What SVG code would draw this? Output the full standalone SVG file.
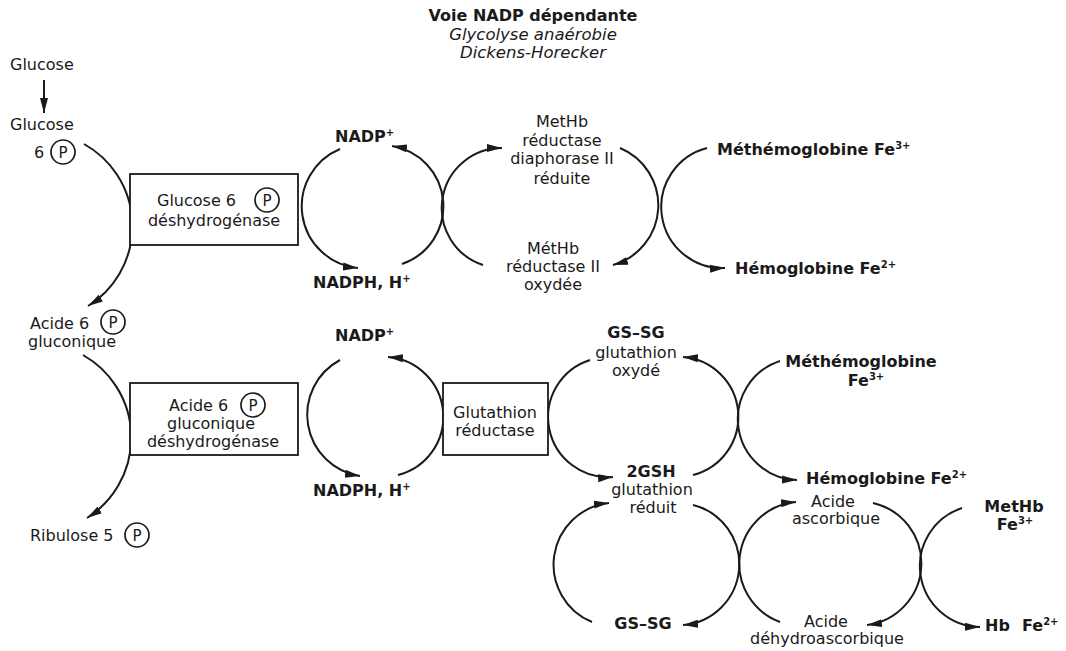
<svg xmlns="http://www.w3.org/2000/svg" width="1066" height="651" viewBox="0 0 1066 651">
<style>
text{font-family:"DejaVu Sans","Liberation Sans",sans-serif;fill:#1a1a1a}
.r{font-size:16px}
.b{font-size:16px;font-weight:bold}
.i{font-size:16.5px;font-style:italic}
.c{text-anchor:middle}
.sup{font-size:10px}
.p{font-size:15px;text-anchor:middle}
.pc{fill:none;stroke:#1a1a1a;stroke-width:1.7}
.box{fill:#fff;stroke:#1a1a1a;stroke-width:1.8}
.ln{fill:none;stroke:#1a1a1a;stroke-width:2}
.ar{marker-end:url(#ah)}
</style>
<defs>
<marker id="ah" markerWidth="16" markerHeight="10" refX="15" refY="5" orient="auto" markerUnits="userSpaceOnUse"><path d="M0,1 L15,5 L0,9 z" fill="#1a1a1a"/></marker>
</defs>
<rect width="1066" height="651" fill="#fff"/>
<g id="title">
<text class="b c" x="533" y="21">Voie NADP dépendante</text>
<text class="i c" x="533" y="40">Glycolyse anaérobie</text>
<text class="i c" x="533" y="58">Dickens-Horecker</text>
</g>
<g id="connectors">
<path class="ln ar" d="M44,80 L44,113"/>
<path class="ln ar" d="M84,144 A94,94 0 0 1 88,306"/>
<path class="ln ar" d="M83,355 A95,95 0 0 1 87,518"/>
<path class="ln ar" d="M340,149 A62,62 0 0 0 358,268"/>
<path class="ln ar" d="M402,264 A61,61 0 0 0 392,146"/>
<path class="ln ar" d="M483,265 A60,60 0 0 1 502,148"/>
<path class="ln ar" d="M620,148 A62,62 0 0 1 613,265"/>
<path class="ln ar" d="M707,148 A61,61 0 0 0 725,268"/>
<path class="ln ar" d="M340,360 A62,62 0 0 0 360,476"/>
<path class="ln ar" d="M398,475 A60,60 0 0 0 388,357"/>
<path class="ln ar" d="M590,360 A60,60 0 0 0 613,477"/>
<path class="ln ar" d="M693,475 A60,60 0 0 0 683,357"/>
<path class="ln ar" d="M780,361 A61,61 0 0 0 797,480"/>
<path class="ln ar" d="M592,622 A62,62 0 0 1 609,503"/>
<path class="ln ar" d="M693,505 A61,61 0 0 1 683,625"/>
<path class="ln ar" d="M780,622 A62,62 0 0 1 796,502"/>
<path class="ln ar" d="M873,503 A62,62 0 0 1 867,625"/>
<path class="ln ar" d="M962,508 A61,61 0 0 0 980,627"/>
</g>
<g id="glucose"><text class="r" x="10" y="70">Glucose</text></g>
<g id="glucose6p">
<text class="r" x="10" y="130">Glucose</text>
<text class="r" x="34" y="158">6</text>
<circle class="pc" cx="63" cy="152" r="12"/><text class="p" x="63" y="158">P</text>
</g>
<g id="g6pdh">
<rect class="box" x="130" y="174" width="168" height="71"/>
<text class="r" x="157" y="206">Glucose 6</text>
<circle class="pc" cx="267" cy="200" r="12"/><text class="p" x="267" y="206">P</text>
<text class="r c" x="214" y="226">déshydrogénase</text>
</g>
<g id="nadp1"><text class="b" x="335" y="142">NADP<tspan class="sup" dy="-6">+</tspan></text></g>
<g id="nadph1"><text class="b" x="313" y="288">NADPH, H<tspan class="sup" dy="-6">+</tspan></text></g>
<g id="methbred">
<text class="r c" x="562" y="127">MetHb</text>
<text class="r c" x="562" y="146">réductase</text>
<text class="r c" x="562" y="164">diaphorase II</text>
<text class="r c" x="562" y="184">réduite</text>
</g>
<g id="methbox">
<text class="r c" x="553" y="254">MétHb</text>
<text class="r c" x="553" y="272">réductase II</text>
<text class="r c" x="553" y="290">oxydée</text>
</g>
<g id="methb1"><text class="b" x="717" y="155">Méthémoglobine Fe<tspan class="sup" dy="-6">3+</tspan></text></g>
<g id="hb1"><text class="b" x="735" y="274">Hémoglobine Fe<tspan class="sup" dy="-6">2+</tspan></text></g>
<g id="acide6p">
<text class="r" x="30" y="329">Acide 6</text>
<circle class="pc" cx="113" cy="322" r="12"/><text class="p" x="113" y="328">P</text>
<text class="r c" x="72" y="347">gluconique</text>
</g>
<g id="6pgdh">
<rect class="box" x="130" y="383" width="168" height="72"/>
<text class="r" x="169" y="411">Acide 6</text>
<circle class="pc" cx="253" cy="405" r="12"/><text class="p" x="253" y="411">P</text>
<text class="r c" x="211" y="429">gluconique</text>
<text class="r c" x="213" y="447">déshydrogénase</text>
</g>
<g id="ribulose">
<text class="r" x="30" y="541">Ribulose 5</text>
<circle class="pc" cx="137" cy="535" r="12"/><text class="p" x="137" y="541">P</text>
</g>
<g id="nadp2"><text class="b" x="335" y="341">NADP<tspan class="sup" dy="-6">+</tspan></text></g>
<g id="nadph2"><text class="b" x="313" y="496">NADPH, H<tspan class="sup" dy="-6">+</tspan></text></g>
<g id="gr">
<rect class="box" x="443" y="383" width="105" height="72"/>
<text class="r c" x="495" y="418">Glutathion</text>
<text class="r c" x="495" y="436">réductase</text>
</g>
<g id="gssg1">
<text class="b c" x="636" y="338">GS–SG</text>
<text class="r c" x="636" y="358">glutathion</text>
<text class="r c" x="636" y="376">oxydé</text>
</g>
<g id="methb2">
<text class="b c" x="861" y="367">Méthémoglobine</text>
<text class="b c" x="866" y="386">Fe<tspan class="sup" dy="-6">3+</tspan></text>
</g>
<g id="hb2"><text class="b" x="806" y="484">Hémoglobine Fe<tspan class="sup" dy="-6">2+</tspan></text></g>
<g id="gsh">
<text class="b c" x="651" y="477">2GSH</text>
<text class="r c" x="652" y="495">glutathion</text>
<text class="r c" x="653" y="513">réduit</text>
</g>
<g id="asc">
<text class="r c" x="833" y="507">Acide</text>
<text class="r c" x="836" y="524">ascorbique</text>
</g>
<g id="methb3">
<text class="b c" x="1014" y="512">MetHb</text>
<text class="b c" x="1015" y="530">Fe<tspan class="sup" dy="-6">3+</tspan></text>
</g>
<g id="gssg2"><text class="b c" x="643" y="629">GS–SG</text></g>
<g id="dha">
<text class="r c" x="826" y="627">Acide</text>
<text class="r c" x="827" y="644">déhydroascorbique</text>
</g>
<g id="hb3"><text class="b" x="985" y="631">Hb</text><text class="b" x="1022" y="631">Fe<tspan class="sup" dy="-6">2+</tspan></text></g>
</svg>
